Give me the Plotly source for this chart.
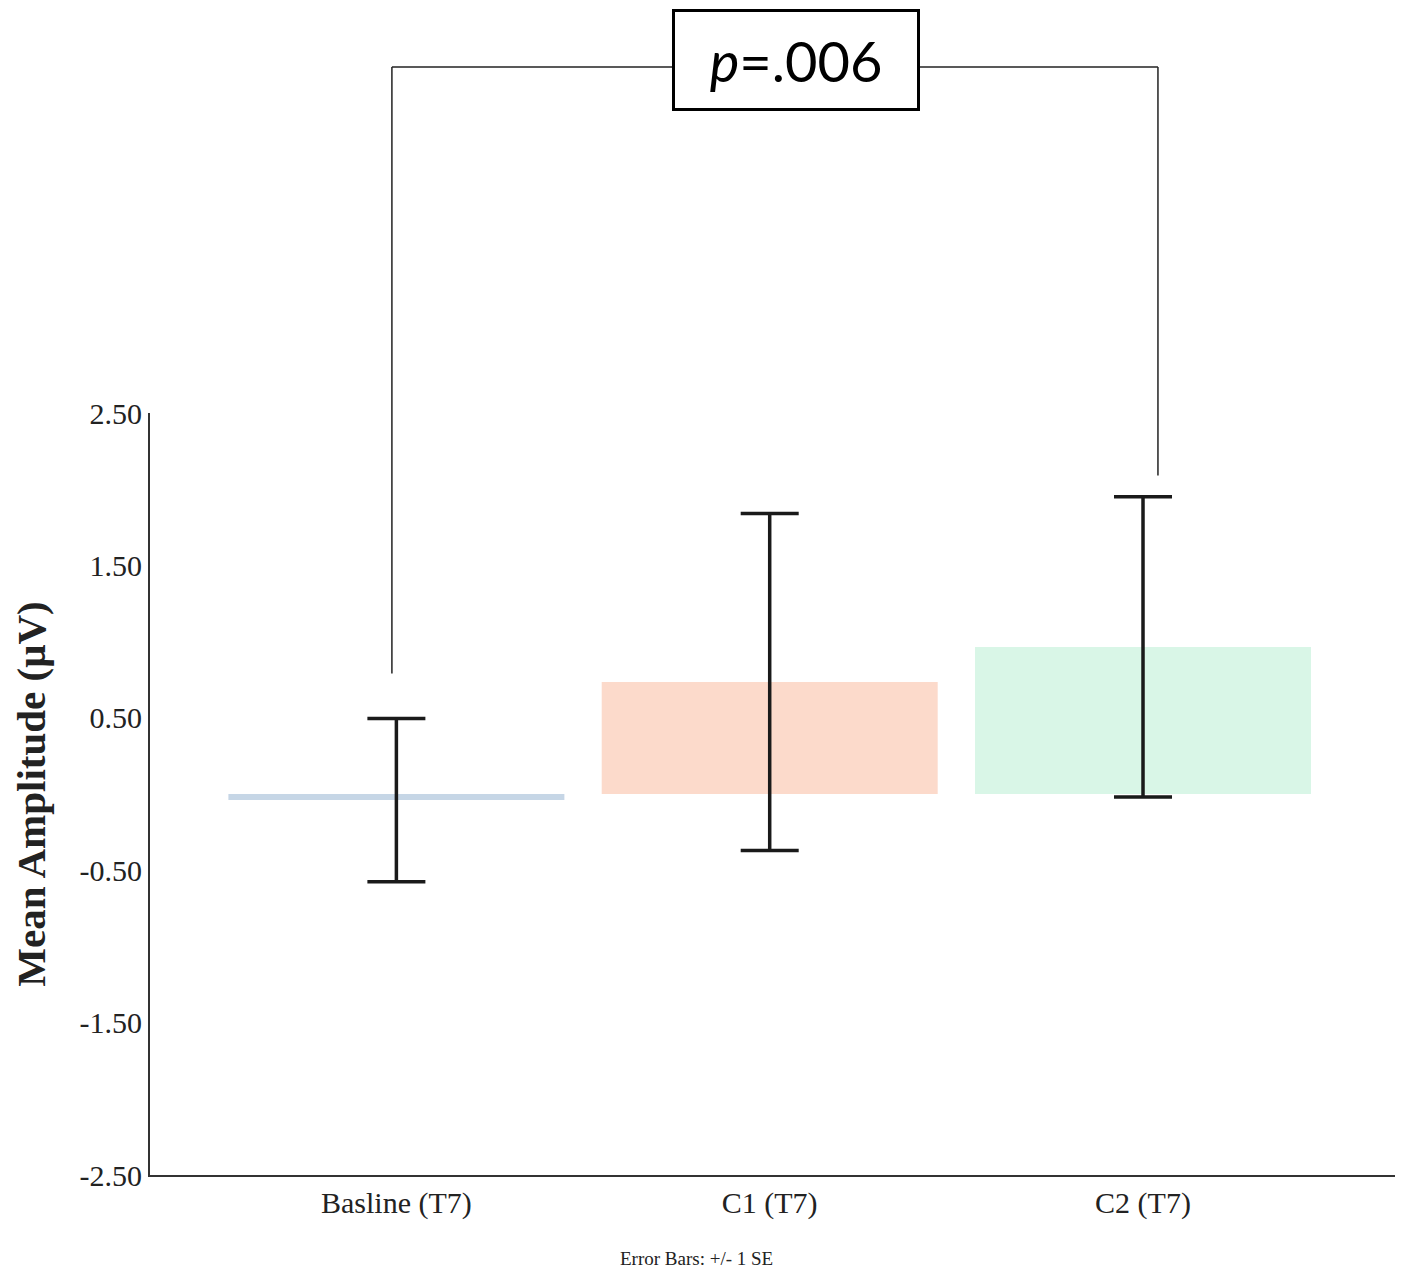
import plotly.graph_objects as go

# values
categories = ["Basline (T7)", "C1 (T7)", "C2 (T7)"]
means = [-0.04, 0.735, 0.965]
se = [0.535, 1.105, 0.985]
bar_colors = ["#c6d6e6", "#fcdacb", "#d9f6e7"]

y_ticks = [2.5, 1.5, 0.5, -0.5, -1.5, -2.5]
y_range = [-2.5, 2.5]

# significance bracket (between Basline and C2)
bracket_x = [-0.012, 2.04]
bracket_bottom = [0.79, 2.09]
p_label = "<i>p</i>=.006"


def to_paper(v):
    return (v - y_range[0]) / (y_range[1] - y_range[0])


fig = go.Figure()

fig.add_trace(go.Bar(
    x=categories,
    y=means,
    width=0.9,
    marker=dict(color=bar_colors, line=dict(width=0)),
    error_y=dict(type="data", array=se, visible=True,
                 color="#1a1a1a", thickness=3.5, width=29),
    showlegend=False,
))

bracket_top = 1.454
line_style = dict(color="#222222", width=1.5)
# left leg, top, right leg
fig.add_shape(type="line", xref="x", yref="paper",
              x0=bracket_x[0], x1=bracket_x[0],
              y0=to_paper(bracket_bottom[0]), y1=bracket_top, line=line_style)
fig.add_shape(type="line", xref="x", yref="paper",
              x0=bracket_x[0], x1=bracket_x[1],
              y0=bracket_top, y1=bracket_top, line=line_style)
fig.add_shape(type="line", xref="x", yref="paper",
              x0=bracket_x[1], x1=bracket_x[1],
              y0=to_paper(bracket_bottom[1]), y1=bracket_top, line=line_style)

fig.add_annotation(
    x=1.07, xref="x", y=1.463, yref="paper",
    text=p_label, showarrow=False,
    font=dict(family="Lato, Open Sans, sans-serif", size=56, color="black"),
    bgcolor="white", bordercolor="black", borderwidth=3, borderpad=0,
    width=242, height=96, xanchor="center", yanchor="middle",
)

fig.add_annotation(
    x=0.439, xref="paper", y=-0.109, yref="paper",
    text="Error Bars: +/- 1 SE", showarrow=False,
    font=dict(family="Liberation Serif, Times New Roman, serif", size=19, color="#222222"),
    xanchor="center", yanchor="middle",
)

serif = "Liberation Serif, Times New Roman, serif"
fig.update_layout(
    width=1418, height=1280,
    margin=dict(l=142, r=31, t=405, b=113),
    paper_bgcolor="white", plot_bgcolor="white",
    font=dict(family=serif, color="#222222"),
    xaxis=dict(
        range=[-0.66, 2.675],
        showline=True, linecolor="#333333", linewidth=2,
        showgrid=False, zeroline=False, ticks="",
        tickfont=dict(family=serif, size=30, color="#222222"),
    ),
    yaxis=dict(
        range=y_range,
        tickvals=y_ticks, ticktext=[f"{v:.2f}" for v in y_ticks],
        showline=True, linecolor="#333333", linewidth=2,
        showgrid=False, zeroline=False, ticks="",
        tickfont=dict(family=serif, size=30, color="#222222"),
        title=dict(text="<b>Mean Amplitude (μV)</b>", standoff=24,
                   font=dict(family=serif, size=41, color="#222222")),
    ),
)

fig.write_html("out.html")
